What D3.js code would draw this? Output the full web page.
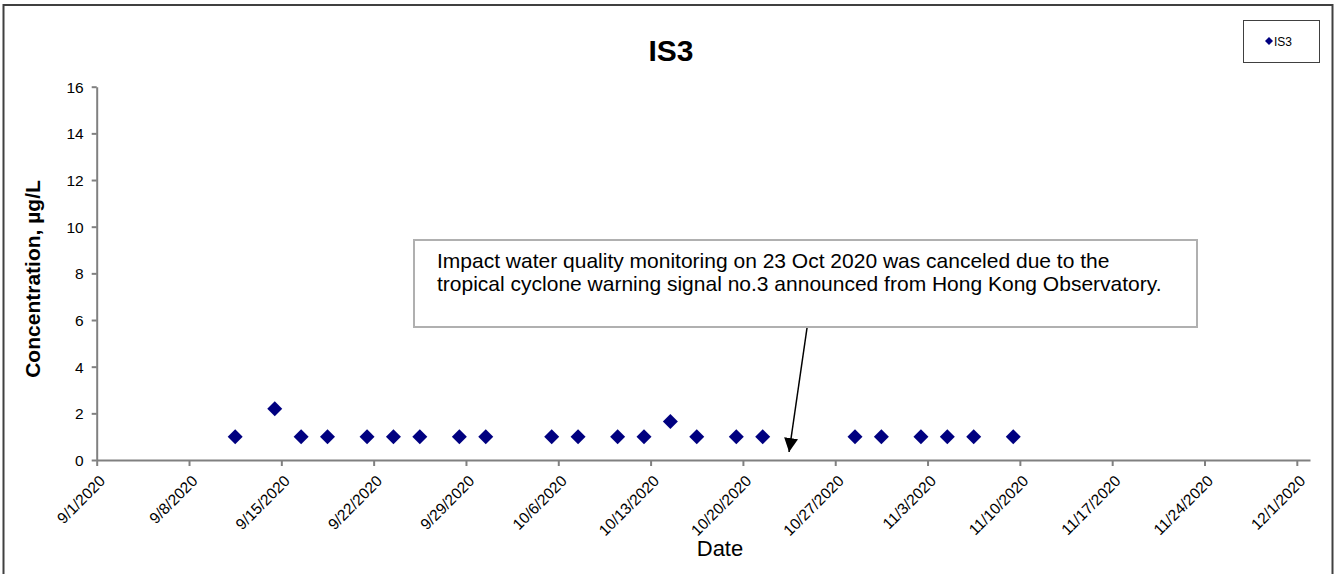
<!DOCTYPE html>
<meta charset="utf-8">
<style>
    body {
        margin: 0;
        background-color: #fff;
    }

    svg {
        display: block;
    }

    text {
        font-family: Arial, "Liberation Sans", sans-serif;
        fill: #000;
    }

    .axis path,
    .axis line {
        stroke: #808080;
        stroke-width: 2px;
    }

    .axis text {
        font-size: 15.5px;
    }
</style>
<svg width="1338" height="574"></svg>
<script src="https://d3js.org/d3.v7.min.js"></script>
<script>
    // sampling dates (taken around noon) and IS3 concentrations
    var dates = [
        "2020-09-11 12:00", "2020-09-14 12:00", "2020-09-16 12:00", "2020-09-18 12:00",
        "2020-09-21 12:00", "2020-09-23 12:00", "2020-09-25 12:00", "2020-09-28 12:00",
        "2020-09-30 12:00", "2020-10-05 12:00", "2020-10-07 12:00", "2020-10-10 12:00",
        "2020-10-12 12:00", "2020-10-14 12:00", "2020-10-16 12:00", "2020-10-19 12:00",
        "2020-10-21 12:00", "2020-10-28 12:00", "2020-10-30 12:00", "2020-11-02 12:00",
        "2020-11-04 12:00", "2020-11-06 12:00", "2020-11-09 12:00"
    ];
    var values = [1, 2.2, 1, 1, 1, 1, 1, 1, 1, 1, 1, 1, 1, 1.65, 1, 1, 1, 1, 1, 1, 1, 1, 1];
    var yTicks = [0, 2, 4, 6, 8, 10, 12, 14, 16];
    var xTickStart = "2020-09-01", xTickEnd = "2020-12-01";
    var xDomain = ["2020-09-01", "2020-12-02"];
    var cancelledDate = "2020-10-23 12:00";
    var note = [
        "Impact water quality monitoring on 23 Oct 2020 was canceled due to the",
        "tropical cyclone warning signal no.3 announced from Hong Kong Observatory."
    ];

    var parse = d3.timeParse("%Y-%m-%d %H:%M"),
        parseDay = d3.timeParse("%Y-%m-%d"),
        fmt = d3.timeFormat("%-m/%-d/%Y");

    var data = dates.map(function(d, i) {
        return { date: parse(d), value: values[i] };
    });

    var svg = d3.select("svg");

    // outer chart border
    svg.append("rect")
        .attr("x", 3.5).attr("y", 5)
        .attr("width", 1329).attr("height", 600)
        .attr("fill", "none")
        .attr("stroke", "#404040")
        .attr("stroke-width", 2);

    var plotLeft = 96.7, plotRight = 1310, plotTop = 86.7, plotBottom = 460;

    var x = d3.scaleTime()
        .domain(xDomain.map(parseDay))
        .range([plotLeft, plotRight]);

    var y = d3.scaleLinear()
        .domain([0, 16])
        .range([plotBottom, plotTop]);

    var xTicks = d3.timeDay.range(parseDay(xTickStart), d3.timeDay.offset(parseDay(xTickEnd), 1), 7);

    var gx = svg.append("g")
        .attr("class", "axis")
        .attr("transform", "translate(0," + plotBottom + ")")
        .call(d3.axisBottom(x).tickValues(xTicks).tickFormat(fmt).tickSizeInner(6).tickSizeOuter(0));

    gx.selectAll("text")
        .attr("text-anchor", "end")
        .attr("dy", null)
        .attr("y", 0)
        .attr("transform", "translate(9,22) rotate(-45)");

    var gy = svg.append("g")
        .attr("class", "axis")
        .attr("transform", "translate(" + plotLeft + ",0)")
        .call(d3.axisLeft(y).tickValues(yTicks).tickSizeInner(5).tickSizeOuter(0).tickPadding(8));

    gy.selectAll("text").attr("dy", "0.36em");

    // points
    var diamond = d3.symbol().type(d3.symbolSquare).size(112);

    svg.append("g")
        .selectAll("path")
        .data(data)
        .enter().append("path")
        .attr("d", diamond)
        .attr("fill", "#000080")
        .attr("transform", function(d) {
            return "translate(" + x(d.date) + "," + y(d.value) + ") rotate(45)";
        });

    // titles
    svg.append("text")
        .attr("x", 671).attr("y", 61)
        .attr("text-anchor", "middle")
        .style("font-size", "30px")
        .style("font-weight", "bold")
        .text("IS3");

    svg.append("text")
        .attr("transform", "translate(40,279) rotate(-90)")
        .attr("text-anchor", "middle")
        .style("font-size", "21px")
        .style("font-weight", "bold")
        .text("Concentration, \u00b5g/L");

    svg.append("text")
        .attr("x", 720).attr("y", 556)
        .attr("text-anchor", "middle")
        .style("font-size", "22px")
        .text("Date");

    // legend
    var legend = svg.append("g");
    legend.append("rect")
        .attr("x", 1243.5).attr("y", 20.5)
        .attr("width", 76).attr("height", 42)
        .attr("fill", "#fff")
        .attr("stroke", "#404040");
    legend.append("path")
        .attr("d", d3.symbol().type(d3.symbolSquare).size(32))
        .attr("fill", "#000080")
        .attr("transform", "translate(1269,41) rotate(45)");
    legend.append("text")
        .attr("x", 1274).attr("y", 45.5)
        .style("font-size", "12px")
        .text("IS3");

    // annotation
    svg.append("defs").append("marker")
        .attr("id", "head")
        .attr("viewBox", "0 0 10 10")
        .attr("refX", 10).attr("refY", 5)
        .attr("markerWidth", 14).attr("markerHeight", 14)
        .attr("markerUnits", "userSpaceOnUse")
        .attr("orient", "auto")
        .append("path")
        .attr("d", "M0,0L10,5L0,10Z")
        .attr("fill", "#000");

    svg.append("line")
        .attr("x1", 807).attr("y1", 328)
        .attr("x2", x(parse(cancelledDate))).attr("y2", 452)
        .attr("stroke", "#000")
        .attr("stroke-width", 1.5)
        .attr("marker-end", "url(#head)");

    svg.append("rect")
        .attr("x", 414).attr("y", 240)
        .attr("width", 783).attr("height", 87)
        .attr("fill", "#fff")
        .attr("stroke", "#b0b0b0")
        .attr("stroke-width", 2);

    svg.append("g")
        .selectAll("text")
        .data(note)
        .enter().append("text")
        .attr("x", 437)
        .attr("y", function(d, i) { return 268 + i * 23; })
        .style("font-size", "21px")
        .text(function(d) { return d; });
</script>
